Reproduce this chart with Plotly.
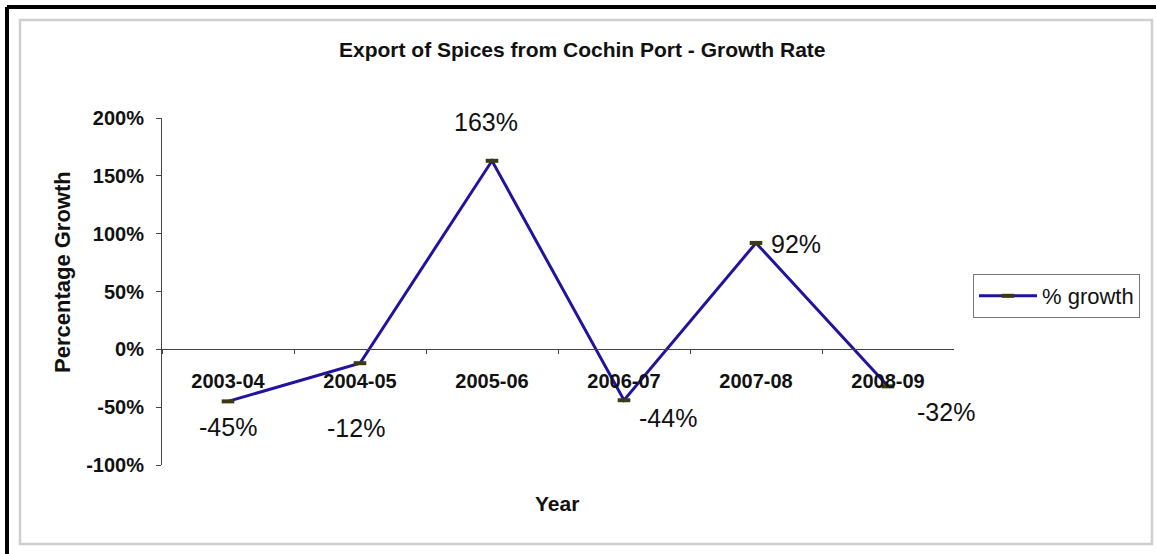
import plotly.graph_objects as go

# chart data
years = ["2003-04", "2004-05", "2005-06", "2006-07", "2007-08", "2008-09"]
growth = [-0.45, -0.12, 1.63, -0.44, 0.92, -0.32]
labels = ["-45%", "-12%", "163%", "-44%", "92%", "-32%"]
y_ticks = [-1.0, -0.5, 0.0, 0.5, 1.0, 1.5, 2.0]
y_tick_text = ["-100%", "-50%", "0%", "50%", "100%", "150%", "200%"]

# label offsets (px) as Excel placed them
label_dx = [0, -4, -6, 44, 40, 58]
label_dy = [-26, -65, 39, -18, -1, -26]

W, H = 1156, 554
FONT = "Liberation Sans, Arial, sans-serif"

# plot area in pixels
px_l, px_r, px_t, px_b = 162, 954, 118, 465
ydom = [1 - px_b / H, 1 - px_t / H]
zero_pos = ydom[0] + (ydom[1] - ydom[0]) * (1 / 3)

fig = go.Figure()
fig.add_trace(go.Scatter(
    x=years, y=growth, mode="lines+markers", name="% growth",
    line=dict(color="#22139f", width=3),
    marker=dict(symbol="line-ew", size=9, color="#3b3b12",
                line=dict(color="#3b3b12", width=4)),
))

for i, (yr, v, t) in enumerate(zip(years, growth, labels)):
    fig.add_annotation(x=yr, y=v, text=t, showarrow=False,
                       xshift=label_dx[i], yshift=label_dy[i],
                       font=dict(family=FONT, size=25, color="#111"))

fig.update_layout(
    width=W, height=H,
    margin=dict(l=0, r=0, t=0, b=0),
    paper_bgcolor="white", plot_bgcolor="white",
    showlegend=True,
    legend=dict(x=973 / W, y=1 - 274 / H, xanchor="left", yanchor="top",
                bordercolor="#777", borderwidth=1,
                font=dict(family=FONT, size=22, color="#111"),
                itemwidth=58, tracegroupgap=0),
    xaxis=dict(type="category", domain=[px_l / W, px_r / W], range=[-0.5, 5.5],
               anchor="free", position=zero_pos,
               showline=True, linecolor="#444", linewidth=1,
               ticks="outside", ticklen=4, tickcolor="#444",
               tickson="boundaries", showgrid=False, zeroline=False,
               ticklabelstandoff=14, automargin=False,
               tickfont=dict(family=FONT, size=20, color="#111", weight="bold")),
    yaxis=dict(domain=ydom, range=[-1, 2], tickvals=y_ticks, ticktext=y_tick_text,
               showline=True, linecolor="#444", linewidth=1,
               ticks="outside", ticklen=5, tickcolor="#444",
               showgrid=False, zeroline=False, automargin=False,
               ticklabelstandoff=8,
               tickfont=dict(family=FONT, size=20, color="#111", weight="bold")),
)

# titles
title_font = dict(family=FONT, size=21, color="#111", weight="bold")
fig.add_annotation(xref="paper", yref="paper", x=582 / W, y=1 - 49 / H,
                   xanchor="center", yanchor="middle",
                   text="Export of Spices from Cochin Port - Growth Rate",
                   showarrow=False, font=title_font)
fig.add_annotation(xref="paper", yref="paper", x=557 / W, y=1 - 503 / H,
                   xanchor="center", yanchor="middle",
                   text="Year", showarrow=False, font=title_font)
fig.add_annotation(xref="paper", yref="paper", x=62 / W, y=1 - 272 / H,
                   xanchor="center", yanchor="middle",
                   text="Percentage Growth", showarrow=False, textangle=-90,
                   font=dict(family=FONT, size=22, color="#111", weight="bold"))

# frames: black outer edge on top/left, light grey inner frame
fig.add_shape(type="rect", xref="paper", yref="paper",
              x0=20 / W, x1=1152 / W, y0=1 - 544 / H, y1=1 - 20 / H,
              line=dict(color="#cfcfcf", width=2.5))
fig.add_shape(type="line", xref="paper", yref="paper",
              x0=7 / W, x1=1, y0=1 - 7 / H, y1=1 - 7 / H,
              line=dict(color="black", width=4))
fig.add_shape(type="line", xref="paper", yref="paper",
              x0=7 / W, x1=7 / W, y0=0, y1=1 - 7 / H,
              line=dict(color="black", width=4))

# drop the browser's default body margin so the figure fills the window
fig.write_html("out.html", config={"displayModeBar": False},
               post_script="document.body.style.margin='0';")
